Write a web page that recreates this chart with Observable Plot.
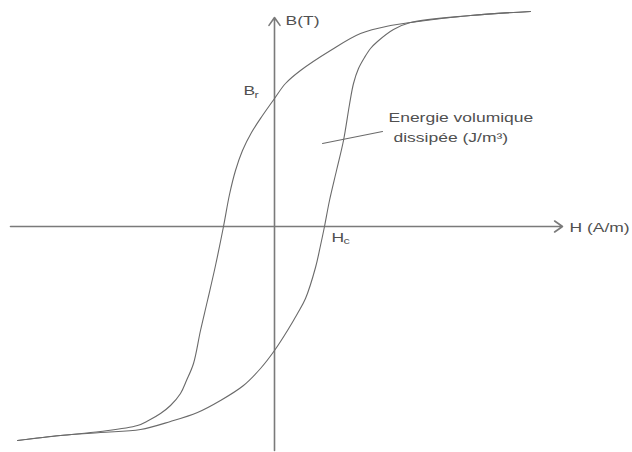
<!DOCTYPE html>
<html>
<head>
<meta charset="utf-8">
<script src="https://cdn.jsdelivr.net/npm/d3@7"></script>
<script src="https://cdn.jsdelivr.net/npm/@observablehq/plot@0.6"></script>
<style>
  html, body { margin: 0; padding: 0; background: #fff; }
</style>
</head>
<body>
<div id="chart"></div>
<script>
// Descending branch of the loop (from +saturation to -saturation): H (A/m), B (T)
const upperH = [256, 196, 136, 116, 86, 56, 26, 11, 0, -12, -23, -32, -39, -45, -51, -59, -67, -74, -81, -88, -94, -104, -114, -126, -137, -174, -214, -257];
const upperB = [1.075, 1.055, 1.02, 1.005, 0.965, 0.88, 0.78, 0.715, 0.64, 0.555, 0.47, 0.38, 0.28, 0.16, 0, -0.195, -0.37, -0.52, -0.685, -0.77, -0.835, -0.895, -0.935, -0.97, -0.995, -1.025, -1.045, -1.07];

// Ascending branch of the loop (from -saturation to +saturation)
const lowerH = [-257, -214, -174, -134, -104, -77, -54, -31, -14, 0, 13, 23, 31, 41, 46, 50, 55, 62, 69, 75, 79, 84, 90, 96, 103, 119, 136, 196, 256];
const lowerB = [-1.07, -1.045, -1.03, -1.015, -0.975, -0.93, -0.87, -0.795, -0.71, -0.62, -0.52, -0.435, -0.36, -0.205, -0.095, 0, 0.13, 0.28, 0.43, 0.61, 0.715, 0.79, 0.845, 0.89, 0.925, 0.985, 1.02, 1.055, 1.075];

// Axes extents (data units)
const hAxis = {x1: -264, x2: 288};
const bAxis = {y1: -1.12, y2: 1.045};

// Leader line of the annotation
const leaderH = [48, 108];
const leaderB = [0.415, 0.475];

// Text labels
const labelText = ["B(T)", "B", "H", "H (A/m)", "Energie volumique", "dissipée (J/m³)"];
const labelH    = [11, -31, 57, 295, 114, 119];
const labelB    = [1.03, 0.68, -0.055, -0.005, 0.545, 0.445];
const subText = ["r", "c"];
const subH    = [-20, 69];
const subB    = [0.655, -0.075];

const upper = upperH.map((h, i) => ({H: h, B: upperB[i]}));
const lower = lowerH.map((h, i) => ({H: h, B: lowerB[i]}));
const labels = labelText.map((t, i) => ({t, H: labelH[i], B: labelB[i]}));
const subs = subText.map((t, i) => ({t, H: subH[i], B: subB[i]}));

const ink = "#6a6a6a";
const textInk = "#505050";

const chart = Plot.plot({
  width: 632,
  height: 452,
  margin: 0,
  x: {domain: [-274, 358], axis: null},
  y: {domain: [-1.13, 1.13], axis: null},
  style: {fontFamily: "'Liberation Sans', Arial, sans-serif", background: "#fff"},
  marks: [
    Plot.arrow([{x1: hAxis.x1, y1: 0, x2: hAxis.x2, y2: 0}], {
      x1: "x1", y1: "y1", x2: "x2", y2: "y2",
      stroke: "#7a7a7a", strokeWidth: 1.6, headLength: 9, headAngle: 70
    }),
    Plot.arrow([{x1: 0, y1: bAxis.y1, x2: 0, y2: bAxis.y2}], {
      x1: "x1", y1: "y1", x2: "x2", y2: "y2",
      stroke: "#7a7a7a", strokeWidth: 1.6, headLength: 9, headAngle: 70
    }),
    Plot.line(upper, {x: "H", y: "B", curve: "catmull-rom", stroke: ink, strokeWidth: 1.1}),
    Plot.line(lower, {x: "H", y: "B", curve: "catmull-rom", stroke: ink, strokeWidth: 1.1}),
    Plot.line(leaderH.map((h, i) => ({H: h, B: leaderB[i]})), {x: "H", y: "B", stroke: ink, strokeWidth: 1.1}),
    Plot.text(labels, {x: "H", y: "B", text: "t", textAnchor: "start", lineAnchor: "middle", fontSize: 12.5, fill: textInk}),
    Plot.text(subs, {x: "H", y: "B", text: "t", textAnchor: "start", lineAnchor: "middle", fontSize: 9, fill: textInk})
  ]
});

// the reference's lettering is horizontally stretched
chart.querySelectorAll('g[aria-label="text"] text').forEach(el => {
  const t = el.getAttribute("transform");
  if (t) el.setAttribute("transform", t + " scale(1.4,1)");
});

document.getElementById("chart").appendChild(chart);
</script>
</body>
</html>
